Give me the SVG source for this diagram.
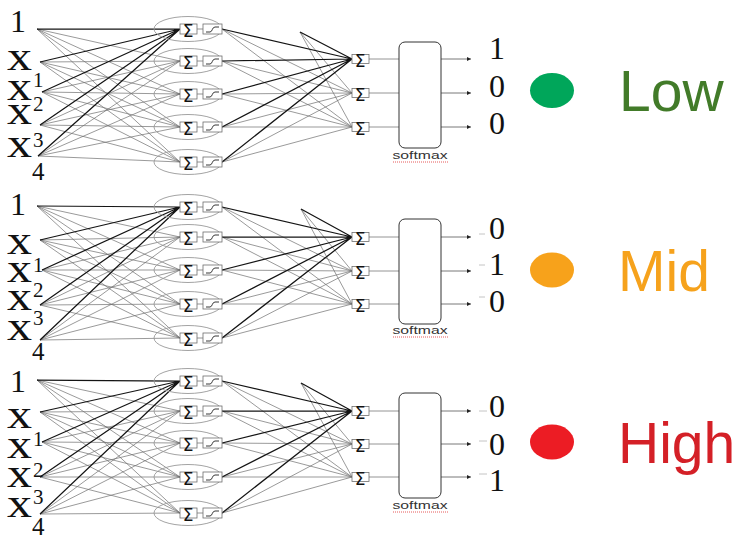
<svg xmlns="http://www.w3.org/2000/svg" width="735" height="537" viewBox="0 0 735 537">
  <defs>
    <marker id="arrow" markerUnits="userSpaceOnUse" markerWidth="4" markerHeight="4" refX="4" refY="2" orient="auto">
      <path d="M0,0L4,2L0,4z" fill="#222"/>
    </marker>
    <style>
      .dark{fill:none;stroke:#141414;stroke-width:1.25}
      .grey{fill:none;stroke:#6e6e6e;stroke-width:0.7}
      .feed{fill:none;stroke:#888;stroke-width:0.9}
      .out{fill:none;stroke:#555;stroke-width:0.8;marker-end:url(#arrow)}
      .dash{fill:none;stroke:#c4c4c4;stroke-width:1}
      .cell{fill:none;stroke:#999;stroke-width:0.9}
      .box{fill:#fff;stroke:#6e6e6e;stroke-width:0.8}
      .tick{fill:none;stroke:#777;stroke-width:0.8}
      .act{fill:none;stroke:#222;stroke-width:0.9}
      .sig{font-family:"DejaVu Sans","Liberation Sans",sans-serif;font-size:17px;fill:#111;text-anchor:middle}
      .soft{fill:#fff;stroke:#333;stroke-width:1}
      .softlbl{font-family:"Liberation Sans",Arial,sans-serif;font-size:11px;fill:#333;text-anchor:middle}
      .squig{fill:none;stroke:#e03030;stroke-width:0.8;stroke-dasharray:1 1}
      .num{font-family:"Liberation Serif","Times New Roman",serif;font-size:32px;fill:#111}
      .var{font-family:"Liberation Serif","Times New Roman",serif;font-size:39px;fill:#111}
      .sup{font-family:"Liberation Serif","Times New Roman",serif;font-size:21px;fill:#111}
      .sub{font-family:"Liberation Serif","Times New Roman",serif;font-size:25px;fill:#111}
      .digit{font-family:"Liberation Serif","Times New Roman",serif;font-size:32px;fill:#111;text-anchor:middle}
      .class{font-family:"Liberation Sans",Arial,sans-serif;font-size:57px}
    </style>
  </defs>
  <rect width="735" height="537" fill="#fff"/>

  <!-- connectors -->
  <g id="connectors">
    <!-- network 1 -->
    <path class="grey" d="M37,29L180,61M37,29L180,94M37,29L180,127M37,29L180,162M40,62L180,61M40,62L180,94M40,62L180,127M40,62L180,162M42,92L180,61M42,92L180,94M42,92L180,127M42,92L180,162M40,125L180,61M40,125L180,94M40,125L180,127M40,125L180,162M38,156L180,61M38,156L180,94M38,156L180,127M38,156L180,162"/>
    <path class="dark" d="M37,29L180,29M40,62L180,29M42,92L180,29M40,125L180,29M38,156L180,29"/>
    <path class="grey" d="M222,29L352,93M222,29L352,127M222,61L352,93M222,61L352,127M222,94L352,93M222,94L352,127M222,127L352,93M222,127L352,127M222,162L352,93M222,162L352,127M300,32L352,93M300,32L352,127"/>
    <path class="dark" d="M222,29L352,59M222,61L352,59M222,94L352,59M222,127L352,59M222,162L352,59M300,32L352,59"/>
    <path class="feed" d="M369,59H399M369,93H399M369,127H399"/>
    <path class="out" d="M441,59H471"/>
    <path class="out" d="M441,93H471"/>
    <path class="out" d="M441,127H471"/>

    <!-- network 2 -->
    <path class="grey" d="M37,206L180,237M37,206L180,270M37,206L180,304M37,206L180,338M40,240L180,237M40,240L180,270M40,240L180,304M40,240L180,338M42,270L180,237M42,270L180,270M42,270L180,304M42,270L180,338M40,305L180,237M40,305L180,270M40,305L180,304M40,305L180,338M40,340L180,237M40,340L180,270M40,340L180,304M40,340L180,338"/>
    <path class="dark" d="M37,206L180,207M40,240L180,207M42,270L180,207M40,305L180,207M40,340L180,207"/>
    <path class="grey" d="M222,207L352,271M222,207L352,304M222,237L352,271M222,237L352,304M222,270L352,271M222,270L352,304M222,304L352,271M222,304L352,304M222,338L352,271M222,338L352,304M301,209L352,271M301,209L352,304"/>
    <path class="dark" d="M222,207L352,237M222,237L352,237M222,270L352,237M222,304L352,237M222,338L352,237M301,209L352,237"/>
    <path class="feed" d="M369,237H399M369,271H399M369,304H399"/>
    <path class="out" d="M441,237H471"/>
    <path class="out" d="M441,271H471"/>
    <path class="out" d="M441,304H471"/>
    <path class="dash" d="M479,234H485M479,265H485M479,297H485"/>

    <!-- network 3 -->
    <path class="grey" d="M37,380L180,411M37,380L180,443M37,380L180,477M37,380L180,513M40,412L180,411M40,412L180,443M40,412L180,477M40,412L180,513M42,442L180,411M42,442L180,443M42,442L180,477M42,442L180,513M40,477L180,411M40,477L180,443M40,477L180,477M40,477L180,513M40,514L180,411M40,514L180,443M40,514L180,477M40,514L180,513"/>
    <path class="dark" d="M37,380L180,381M40,412L180,381M42,442L180,381M40,477L180,381M40,514L180,381"/>
    <path class="grey" d="M222,381L352,444M222,381L352,477M222,411L352,444M222,411L352,477M222,443L352,444M222,443L352,477M222,477L352,444M222,477L352,477M222,513L352,444M222,513L352,477M301,383L352,444M301,383L352,477"/>
    <path class="dark" d="M222,381L352,411M222,411L352,411M222,443L352,411M222,477L352,411M222,513L352,411M301,383L352,411"/>
    <path class="feed" d="M369,411H399M369,444H399M369,477H399"/>
    <path class="out" d="M441,411H471"/>
    <path class="out" d="M441,444H471"/>
    <path class="out" d="M441,477H471"/>
    <path class="dash" d="M479,411H487M479,441H487M479,474H487"/>
  </g>

  <!-- network 1: inputs -->
  <g id="n1-inputs">
    <text class="num" x="10" y="32">1</text>
    <text class="var" x="7" y="70" textLength="25" lengthAdjust="spacingAndGlyphs">x</text>
    <text class="var" x="7" y="100" textLength="25" lengthAdjust="spacingAndGlyphs">x</text>
    <text class="sup" x="33" y="87">1</text>
    <text class="var" x="7" y="124" textLength="25" lengthAdjust="spacingAndGlyphs">x</text>
    <text class="sup" x="33" y="111">2</text>
    <text class="var" x="7" y="157" textLength="25" lengthAdjust="spacingAndGlyphs">x</text>
    <text class="sup" x="33" y="147">3</text>
    <text class="sub" x="32" y="180">4</text>
  </g>
  <!-- network 1: hidden neurons -->
  <g id="n1-h1"><ellipse class="cell" cx="188" cy="29" rx="34" ry="12.5"/><rect class="box" x="180" y="24" width="17" height="10"/><text class="sig" x="188" y="37">Σ</text><path class="tick" d="M197,29h6"/><rect class="box" x="203" y="24" width="19" height="10"/><path class="act" d="M206,32h4c2.5,0 2,-5 5,-5h4"/></g>
  <g id="n1-h2"><ellipse class="cell" cx="188" cy="61" rx="34" ry="12.5"/><rect class="box" x="180" y="56" width="17" height="10"/><text class="sig" x="188" y="69">Σ</text><path class="tick" d="M197,61h6"/><rect class="box" x="203" y="56" width="19" height="10"/><path class="act" d="M206,64h4c2.5,0 2,-5 5,-5h4"/></g>
  <g id="n1-h3"><ellipse class="cell" cx="188" cy="94" rx="34" ry="12.5"/><rect class="box" x="180" y="89" width="17" height="10"/><text class="sig" x="188" y="102">Σ</text><path class="tick" d="M197,94h6"/><rect class="box" x="203" y="89" width="19" height="10"/><path class="act" d="M206,97h4c2.5,0 2,-5 5,-5h4"/></g>
  <g id="n1-h4"><ellipse class="cell" cx="188" cy="127" rx="34" ry="12.5"/><rect class="box" x="180" y="122" width="17" height="10"/><text class="sig" x="188" y="135">Σ</text><path class="tick" d="M197,127h6"/><rect class="box" x="203" y="122" width="19" height="10"/><path class="act" d="M206,130h4c2.5,0 2,-5 5,-5h4"/></g>
  <g id="n1-h5"><ellipse class="cell" cx="188" cy="162" rx="34" ry="12.5"/><rect class="box" x="180" y="157" width="17" height="10"/><text class="sig" x="188" y="170">Σ</text><path class="tick" d="M197,162h6"/><rect class="box" x="203" y="157" width="19" height="10"/><path class="act" d="M206,165h4c2.5,0 2,-5 5,-5h4"/></g>
  <!-- network 1: output sums -->
  <g id="n1-o1"><rect class="box" x="352" y="54.5" width="17" height="9"/><text class="sig" x="360" y="67">Σ</text></g>
  <g id="n1-o2"><rect class="box" x="352" y="88.5" width="17" height="9"/><text class="sig" x="360" y="101">Σ</text></g>
  <g id="n1-o3"><rect class="box" x="352" y="122.5" width="17" height="9"/><text class="sig" x="360" y="135">Σ</text></g>
  <g id="n1-softmax">
    <rect class="soft" x="399" y="42" width="42" height="106" rx="6"/>
    <text class="softlbl" x="420" y="159" textLength="55" lengthAdjust="spacingAndGlyphs">softmax</text>
    <path class="squig" d="M393,162H448"/>
  </g>
  <g id="n1-result">
    <text class="digit" x="497" y="59">1</text>
    <text class="digit" x="497" y="97">0</text>
    <text class="digit" x="497" y="134">0</text>
  </g>
  <g id="low">
    <ellipse cx="552" cy="90.5" rx="22" ry="17.5" fill="#00a65a"/>
    <text class="class" x="619" y="111" fill="#427b29">Low</text>
  </g>

  <!-- network 2: inputs -->
  <g id="n2-inputs">
    <text class="num" x="10" y="215">1</text>
    <text class="var" x="7" y="254" textLength="25" lengthAdjust="spacingAndGlyphs">x</text>
    <text class="var" x="7" y="282" textLength="25" lengthAdjust="spacingAndGlyphs">x</text>
    <text class="sup" x="33" y="272">1</text>
    <text class="var" x="7" y="310" textLength="25" lengthAdjust="spacingAndGlyphs">x</text>
    <text class="sup" x="33" y="297">2</text>
    <text class="var" x="7" y="340" textLength="25" lengthAdjust="spacingAndGlyphs">x</text>
    <text class="sup" x="33" y="325">3</text>
    <text class="sub" x="32" y="360">4</text>
  </g>
  <g id="n2-h1"><ellipse class="cell" cx="188" cy="207" rx="34" ry="12.5"/><rect class="box" x="180" y="202" width="17" height="10"/><text class="sig" x="188" y="215">Σ</text><path class="tick" d="M197,207h6"/><rect class="box" x="203" y="202" width="19" height="10"/><path class="act" d="M206,210h4c2.5,0 2,-5 5,-5h4"/></g>
  <g id="n2-h2"><ellipse class="cell" cx="188" cy="237" rx="34" ry="12.5"/><rect class="box" x="180" y="232" width="17" height="10"/><text class="sig" x="188" y="245">Σ</text><path class="tick" d="M197,237h6"/><rect class="box" x="203" y="232" width="19" height="10"/><path class="act" d="M206,240h4c2.5,0 2,-5 5,-5h4"/></g>
  <g id="n2-h3"><ellipse class="cell" cx="188" cy="270" rx="34" ry="12.5"/><rect class="box" x="180" y="265" width="17" height="10"/><text class="sig" x="188" y="278">Σ</text><path class="tick" d="M197,270h6"/><rect class="box" x="203" y="265" width="19" height="10"/><path class="act" d="M206,273h4c2.5,0 2,-5 5,-5h4"/></g>
  <g id="n2-h4"><ellipse class="cell" cx="188" cy="304" rx="34" ry="12.5"/><rect class="box" x="180" y="299" width="17" height="10"/><text class="sig" x="188" y="312">Σ</text><path class="tick" d="M197,304h6"/><rect class="box" x="203" y="299" width="19" height="10"/><path class="act" d="M206,307h4c2.5,0 2,-5 5,-5h4"/></g>
  <g id="n2-h5"><ellipse class="cell" cx="188" cy="338" rx="34" ry="12.5"/><rect class="box" x="180" y="333" width="17" height="10"/><text class="sig" x="188" y="346">Σ</text><path class="tick" d="M197,338h6"/><rect class="box" x="203" y="333" width="19" height="10"/><path class="act" d="M206,341h4c2.5,0 2,-5 5,-5h4"/></g>
  <g id="n2-o1"><rect class="box" x="352" y="232.5" width="17" height="9"/><text class="sig" x="360" y="245">Σ</text></g>
  <g id="n2-o2"><rect class="box" x="352" y="266.5" width="17" height="9"/><text class="sig" x="360" y="279">Σ</text></g>
  <g id="n2-o3"><rect class="box" x="352" y="299.5" width="17" height="9"/><text class="sig" x="360" y="312">Σ</text></g>
  <g id="n2-softmax">
    <rect class="soft" x="399" y="219" width="42" height="105" rx="6"/>
    <text class="softlbl" x="420" y="334" textLength="55" lengthAdjust="spacingAndGlyphs">softmax</text>
    <path class="squig" d="M393,337H448"/>
  </g>
  <g id="n2-result">
    <text class="digit" x="497" y="239">0</text>
    <text class="digit" x="497" y="275">1</text>
    <text class="digit" x="497" y="312">0</text>
  </g>
  <g id="mid">
    <ellipse cx="552" cy="270" rx="22" ry="17.5" fill="#f7a21b"/>
    <text class="class" x="618" y="291" fill="#f6a21c">Mid</text>
  </g>

  <!-- network 3: inputs -->
  <g id="n3-inputs">
    <text class="num" x="10" y="392">1</text>
    <text class="var" x="7" y="428" textLength="25" lengthAdjust="spacingAndGlyphs">x</text>
    <text class="var" x="7" y="458" textLength="25" lengthAdjust="spacingAndGlyphs">x</text>
    <text class="sup" x="33" y="446">1</text>
    <text class="var" x="7" y="487" textLength="25" lengthAdjust="spacingAndGlyphs">x</text>
    <text class="sup" x="33" y="477">2</text>
    <text class="var" x="7" y="517" textLength="25" lengthAdjust="spacingAndGlyphs">x</text>
    <text class="sup" x="33" y="504">3</text>
    <text class="sub" x="32" y="535">4</text>
  </g>
  <g id="n3-h1"><ellipse class="cell" cx="188" cy="381" rx="34" ry="12.5"/><rect class="box" x="180" y="376" width="17" height="10"/><text class="sig" x="188" y="389">Σ</text><path class="tick" d="M197,381h6"/><rect class="box" x="203" y="376" width="19" height="10"/><path class="act" d="M206,384h4c2.5,0 2,-5 5,-5h4"/></g>
  <g id="n3-h2"><ellipse class="cell" cx="188" cy="411" rx="34" ry="12.5"/><rect class="box" x="180" y="406" width="17" height="10"/><text class="sig" x="188" y="419">Σ</text><path class="tick" d="M197,411h6"/><rect class="box" x="203" y="406" width="19" height="10"/><path class="act" d="M206,414h4c2.5,0 2,-5 5,-5h4"/></g>
  <g id="n3-h3"><ellipse class="cell" cx="188" cy="443" rx="34" ry="12.5"/><rect class="box" x="180" y="438" width="17" height="10"/><text class="sig" x="188" y="451">Σ</text><path class="tick" d="M197,443h6"/><rect class="box" x="203" y="438" width="19" height="10"/><path class="act" d="M206,446h4c2.5,0 2,-5 5,-5h4"/></g>
  <g id="n3-h4"><ellipse class="cell" cx="188" cy="477" rx="34" ry="12.5"/><rect class="box" x="180" y="472" width="17" height="10"/><text class="sig" x="188" y="485">Σ</text><path class="tick" d="M197,477h6"/><rect class="box" x="203" y="472" width="19" height="10"/><path class="act" d="M206,480h4c2.5,0 2,-5 5,-5h4"/></g>
  <g id="n3-h5"><ellipse class="cell" cx="188" cy="513" rx="34" ry="12.5"/><rect class="box" x="180" y="508" width="17" height="10"/><text class="sig" x="188" y="521">Σ</text><path class="tick" d="M197,513h6"/><rect class="box" x="203" y="508" width="19" height="10"/><path class="act" d="M206,516h4c2.5,0 2,-5 5,-5h4"/></g>
  <g id="n3-o1"><rect class="box" x="352" y="406.5" width="17" height="9"/><text class="sig" x="360" y="419">Σ</text></g>
  <g id="n3-o2"><rect class="box" x="352" y="439.5" width="17" height="9"/><text class="sig" x="360" y="452">Σ</text></g>
  <g id="n3-o3"><rect class="box" x="352" y="472.5" width="17" height="9"/><text class="sig" x="360" y="485">Σ</text></g>
  <g id="n3-softmax">
    <rect class="soft" x="399" y="393" width="42" height="105" rx="6"/>
    <text class="softlbl" x="420" y="509" textLength="55" lengthAdjust="spacingAndGlyphs">softmax</text>
    <path class="squig" d="M393,512H448"/>
  </g>
  <g id="n3-result">
    <text class="digit" x="497" y="417">0</text>
    <text class="digit" x="497" y="455">0</text>
    <text class="digit" x="497" y="491">1</text>
  </g>
  <g id="high">
    <ellipse cx="552" cy="442" rx="22" ry="17.5" fill="#ec1c24"/>
    <text class="class" x="618" y="463" fill="#d42027">High</text>
  </g>
</svg>
